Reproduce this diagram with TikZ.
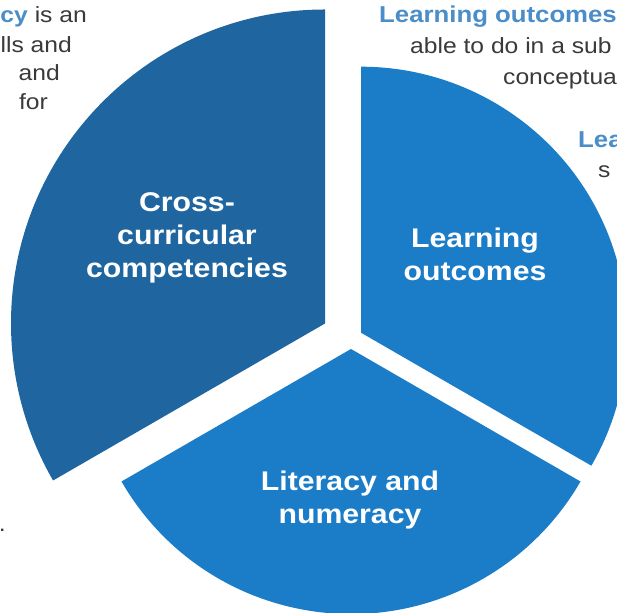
\documentclass[tikz,border=0pt]{standalone}
\usepackage{fontspec}
\setmainfont{Liberation Sans}[FakeStretch=1.12]
\definecolor{darkslice}{HTML}{1F66A0}
\definecolor{brightslice}{HTML}{1B7CC7}
\definecolor{labelblue}{HTML}{4A8DC8}
\definecolor{bodygray}{HTML}{3A3A3A}
\tikzset{
  slicelabel/.style={text=white, font=\fontsize{27}{33}\selectfont\bfseries, align=center, inner sep=0pt},
  bodytext/.style={text=bodygray, font=\fontsize{22}{26}\selectfont, inner sep=0pt},
  headtext/.style={text=labelblue, font=\fontsize{23}{26}\selectfont\bfseries, inner sep=0pt}
}
\begin{document}
\begin{tikzpicture}[x=1pt,y=1pt]
\useasboundingbox (0,0) rectangle (617,612);
\fill[white] (0,0) rectangle (617,612);
\begin{scope}
\clip (0,0) rectangle (617,612);
% slices (pie, exploded; the dark one larger)
\fill[darkslice] (325,288.5) -- ++(90:314pt) arc[start angle=90, end angle=210, radius=314pt] -- cycle;
\fill[brightslice] (361,279.3) -- ++(-30:266pt) arc[start angle=-30, end angle=90, radius=266pt] -- cycle;
\fill[brightslice] (351,263) -- ++(210:265pt) arc[start angle=210, end angle=330, radius=265pt] -- cycle;
% slice labels
\node[slicelabel] (ccc) at (187,374) {Cross-\\curricular\\competencies};
\node[slicelabel] (lo) at (475,358) {Learning\\outcomes};
\node[slicelabel] (ln) at (350,112) {Literacy and\\numeracy};
% surrounding text (cut by the page edges)
\node[bodytext, anchor=base east] (l1) at (87,589) {{\color{labelblue}\bfseries cy} is an};
\node[bodytext, anchor=base east] (l2) at (72,559) {lls and};
\node[bodytext, anchor=base east] (l3) at (60,531) {and};
\node[bodytext, anchor=base east] (l4) at (48,502) {for};
\node[bodytext, anchor=base east] (l5) at (6,80) {.};
\node[headtext, anchor=base west] (r1) at (379,589) {Learning outcomes};
\node[bodytext, anchor=base west] (r2) at (410,558) {able to do in a sub};
\node[bodytext, anchor=base west] (r3) at (503,527) {conceptua};
\node[headtext, anchor=base west] (r4) at (578,464) {Lea};
\node[bodytext, anchor=base west] (r5) at (598,434) {s};
\end{scope}
\end{tikzpicture}
\end{document}
